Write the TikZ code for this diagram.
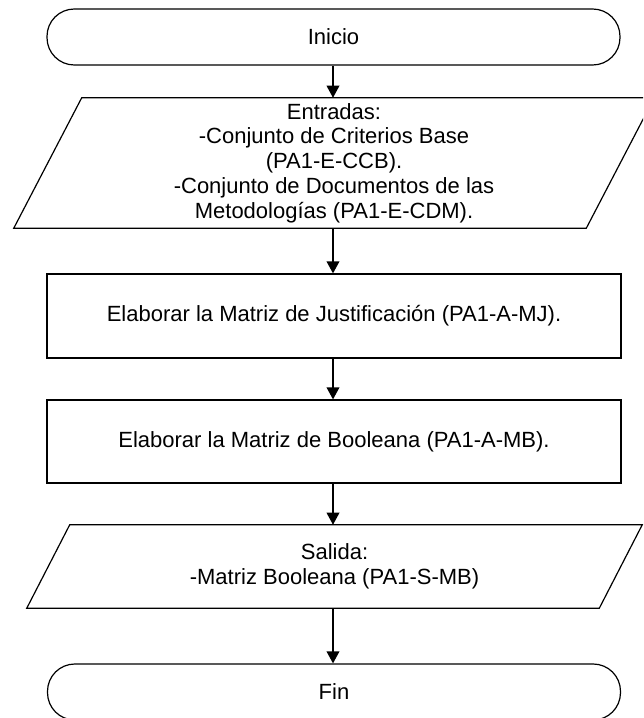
\documentclass[tikz,border=0pt]{standalone}
\usepackage{fontspec}
\setmainfont{Liberation Sans}
\usetikzlibrary{arrows.meta,calc}

% one picture unit is 0.75pt; node sizes below are given in pt
\tikzset{
  base/.style={inner sep=0pt, align=center, font=\fontsize{16.5}{18.6}\selectfont},
  terminal/.style={base, draw, line width=0.9pt, rounded corners=20.5pt,
    minimum width=429.75pt, minimum height=42pt},
  process/.style={base, draw, line width=0.9pt, minimum width=430.5pt, minimum height=63pt},
  iobox/.style={base, minimum width=429pt},
  slanted/.style={draw, line width=0.9pt, line join=miter},
  flow/.style={line width=1pt, -{Triangle[width=9.5pt,length=9pt]}}
}

\begin{document}
\begin{tikzpicture}[x=0.75pt,y=-0.75pt]
\useasboundingbox (0,0) rectangle (643,718);
\clip (0,0) rectangle (643,718);

% start
\node[terminal] (inicio) at (333.5,37) {Inicio};

% inputs (parallelogram drawn around the node)
\node[iobox, minimum height=97.5pt] (entradas) at (334,163)
  {Entradas:\\-Conjunto de Criterios Base\\(PA1-E-CCB).\\-Conjunto de Documentos de las\\Metodologías (PA1-E-CDM).};
\draw[slanted] ($(entradas.north west)+(34,0)$) -- ($(entradas.north east)+(34,0)$)
  -- ($(entradas.south east)+(-34,0)$) -- ($(entradas.south west)+(-34,0)$) -- cycle;

% process steps
\node[process] (mj) at (334,316) {Elaborar la Matriz de Justificación (PA1-A-MJ).};
\node[process, minimum height=62.25pt] (mb) at (334,441.5) {Elaborar la Matriz de Booleana (PA1-A-MB).};

% output
\node[iobox, minimum height=62.25pt] (salida) at (334.5,566.5)
  {Salida:\\-Matriz Booleana (PA1-S-MB)};
\draw[slanted] ($(salida.north west)+(21.5,0)$) -- ($(salida.north east)+(21.5,0)$)
  -- ($(salida.south east)+(-21.5,0)$) -- ($(salida.south west)+(-21.5,0)$) -- cycle;

% end
\node[terminal] (fin) at (334,692) {Fin};

% connectors
\draw[flow] (inicio.south -| 333,0) -- (entradas.north -| 333,0);
\draw[flow] (entradas.south -| 333,0) -- (mj.north -| 333,0);
\draw[flow] (mj.south -| 333,0) -- (mb.north -| 333,0);
\draw[flow] (mb.south -| 333,0) -- (salida.north -| 333,0);
\draw[flow] (salida.south -| 333,0) -- (fin.north -| 333,0);
\end{tikzpicture}
\end{document}
